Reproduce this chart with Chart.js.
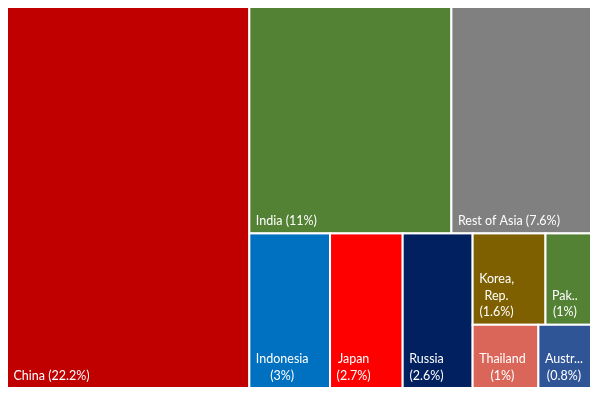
<!DOCTYPE html>
<html>
<head>
<meta charset="utf-8">
<script src="https://cdn.jsdelivr.net/npm/chart.js@4.4.1/dist/chart.umd.min.js"></script>
<style>
  html, body { margin: 0; padding: 0; background: #fff; }
  canvas { display: block; }
</style>
</head>
<body>
<canvas id="canvas" width="599" height="398"></canvas>
<script>
const labels = ['China', 'India', 'Rest of Asia', 'Indonesia', 'Japan', 'Russia', 'Korea, Rep.', 'Pak..', 'Thailand', 'Austr...'];
const shares = [22.2, 11, 7.6, 3, 2.7, 2.6, 1.6, 1, 1, 0.8];
const colors = ['#C00000', '#548235', '#808080', '#0070C0', '#FF0000', '#002060', '#7F6000', '#548235', '#DA6659', '#2F5597'];

// squarified layout, aspect measured as |w/h - 1|
function squarify(vals, rect) {
    const out = [];
    let items = vals.map((v, i) => ({ v, i }));
    let r = Object.assign({}, rect);
    while (items.length) {
        const total = items.reduce((s, d) => s + d.v, 0);
        const vertical = r.w >= r.h;
        const score = (row) => {
            const rs = row.reduce((s, d) => s + d.v, 0);
            const t = rs / total * (vertical ? r.w : r.h);
            let worst = 0;
            row.forEach(d => {
                const len = d.v / rs * (vertical ? r.h : r.w);
                const ratio = vertical ? t / len : len / t;
                worst = Math.max(worst, Math.abs(ratio - 1));
            });
            return worst;
        };
        let row = [items[0]];
        let k = 1;
        while (k < items.length) {
            const next = row.concat([items[k]]);
            if (score(next) <= score(row)) { row = next; k++; } else break;
        }
        const rs = row.reduce((s, d) => s + d.v, 0);
        const t = rs / total * (vertical ? r.w : r.h);
        let pos = vertical ? r.y : r.x;
        row.forEach(d => {
            const len = d.v / rs * (vertical ? r.h : r.w);
            if (vertical) out[d.i] = { x: r.x, y: pos, w: t, h: len };
            else out[d.i] = { x: pos, y: r.y, w: len, h: t };
            pos += len;
        });
        if (vertical) r = { x: r.x + t, y: r.y, w: r.w - t, h: r.h };
        else r = { x: r.x, y: r.y + t, w: r.w, h: r.h - t };
        items = items.slice(row.length);
    }
    return out;
}

const treemap = {
    id: 'treemap',
    afterDatasetsDraw(chart) {
        const ctx = chart.ctx;
        const xs = chart.scales.x, ys = chart.scales.y;
        const x0 = xs.getPixelForValue(0), x1 = xs.getPixelForValue(1);
        const y0 = ys.getPixelForValue(1), y1 = ys.getPixelForValue(0);
        const cells = squarify(shares, { x: x0, y: y0, w: x1 - x0, h: y1 - y0 });
        ctx.save();
        cells.forEach((c, i) => {
            ctx.fillStyle = colors[i];
            ctx.fillRect(c.x, c.y, c.w, c.h);
            ctx.strokeStyle = '#ffffff';
            ctx.lineWidth = 2;
            ctx.strokeRect(c.x, c.y, c.w, c.h);
        });
        ctx.font = '12.5px Lato';
        ctx.fillStyle = '#ffffff';
        ctx.textBaseline = 'alphabetic';
        const pad = 6.5, lh = 16.5;
        cells.forEach((c, i) => {
            const val = '(' + shares[i] + '%)';
            const full = labels[i] + ' ' + val;
            const avail = c.w - 2 * pad;
            let lines;
            if (ctx.measureText(full).width <= avail) {
                lines = [full];
            } else {
                lines = [];
                let cur = '';
                labels[i].split(' ').forEach(w => {
                    const test = cur ? cur + ' ' + w : w;
                    if (cur && ctx.measureText(test).width > avail) { lines.push(cur); cur = w; }
                    else cur = test;
                });
                if (cur) lines.push(cur);
                lines.push(val);
            }
            const bw = Math.max(...lines.map(l => ctx.measureText(l).width));
            const cx = c.x + pad + bw / 2;
            ctx.textAlign = lines.length > 1 ? 'center' : 'left';
            lines.forEach((l, j) => {
                const yb = c.y + c.h - 8.5 - (lines.length - 1 - j) * lh;
                ctx.fillText(l, lines.length > 1 ? cx : c.x + pad, yb);
            });
        });
        ctx.restore();
    }
};

new Chart(document.getElementById('canvas'), {
    type: 'scatter',
    data: { datasets: [{ data: [] }] },
    options: {
        responsive: false,
        animation: false,
        layout: { padding: { left: 7, top: 7, right: 8, bottom: 10 } },
        plugins: { legend: { display: false }, tooltip: { enabled: false } },
        scales: {
            x: { type: 'linear', min: 0, max: 1, display: false },
            y: { type: 'linear', min: 0, max: 1, display: false }
        }
    },
    plugins: [treemap]
});
</script>
</body>
</html>
